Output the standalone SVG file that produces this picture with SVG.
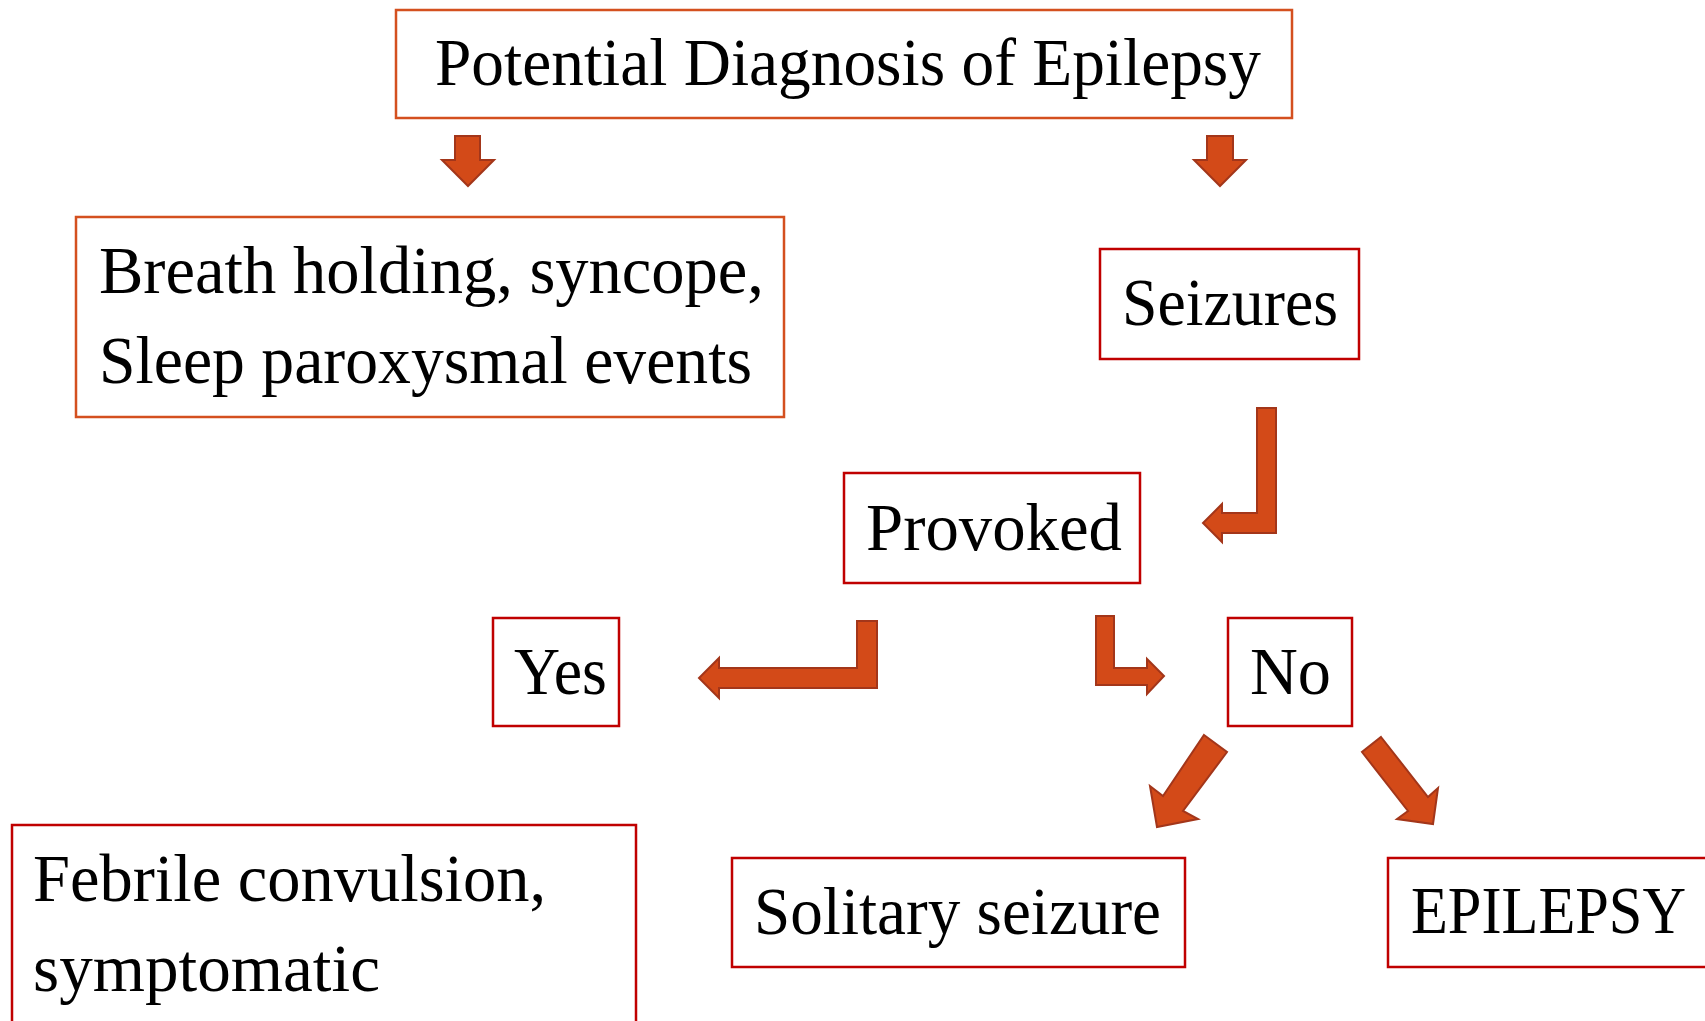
<svg xmlns="http://www.w3.org/2000/svg" width="1705" height="1021" viewBox="0 0 1705 1021">
<style>
.bo{fill:#fff;stroke:#D4501F;stroke-width:2.5}
.br{fill:#fff;stroke:#C00000;stroke-width:2.5}
.t{font-family:"Liberation Serif","Times New Roman",serif;font-size:68px;fill:#000}
.ar{fill:#D34A18;stroke:#A3361A;stroke-width:2;stroke-linejoin:miter}
</style>
<rect width="1705" height="1021" fill="#fff"/>
<g id="connectors">
<polygon class="ar" points="455,136 480,136 480,160 494,160 468,186 442,160 455,160"/>
<polygon class="ar" points="1207,136 1233,136 1233,160 1246,160 1220,186 1194,160 1207,160"/>
<polygon class="ar" points="1257,408 1276,408 1276,533 1222,533 1222,542 1203,523 1222,504 1222,513 1257,513"/>
<polygon class="ar" points="857,621 877,621 877,688 719,688 719,698 699,678 719,658 719,668 857,668"/>
<polygon class="ar" points="1096,616 1114,616 1114,668 1147,668 1147,659 1164,676 1147,694 1147,685 1096,685"/>
<polygon class="ar" points="1204,735 1227,752 1183,811 1198,819 1157,827 1150,786 1163,796"/>
<polygon class="ar" points="1381,737 1428,797 1438,788 1433,824 1397,819 1408,811 1362,752"/>
</g>
<g id="n-title">
<rect class="bo" x="396" y="10" width="896" height="108"/>
<text class="t" x="435" y="85" textLength="826" lengthAdjust="spacingAndGlyphs">Potential Diagnosis of Epilepsy</text>
</g>
<g id="n-breath">
<rect class="bo" x="76" y="217" width="708" height="200"/>
<text class="t" x="99" y="293" textLength="665" lengthAdjust="spacingAndGlyphs">Breath holding, syncope,</text>
<text class="t" x="99" y="383" textLength="653" lengthAdjust="spacingAndGlyphs">Sleep paroxysmal events</text>
</g>
<g id="n-seizures">
<rect class="br" x="1100" y="249" width="259" height="110"/>
<text class="t" x="1122" y="325" textLength="216" lengthAdjust="spacingAndGlyphs">Seizures</text>
</g>
<g id="n-provoked">
<rect class="br" x="844" y="473" width="296" height="110"/>
<text class="t" x="866" y="550" textLength="256" lengthAdjust="spacingAndGlyphs">Provoked</text>
</g>
<g id="n-yes">
<rect class="br" x="493" y="618" width="126" height="108"/>
<text class="t" x="514" y="694" textLength="93" lengthAdjust="spacingAndGlyphs">Yes</text>
</g>
<g id="n-no">
<rect class="br" x="1228" y="618" width="124" height="108"/>
<text class="t" x="1250" y="694" textLength="81" lengthAdjust="spacingAndGlyphs">No</text>
</g>
<g id="n-febrile">
<rect class="br" x="12" y="825" width="624" height="210"/>
<text class="t" x="33" y="901" textLength="513" lengthAdjust="spacingAndGlyphs">Febrile convulsion,</text>
<text class="t" x="33" y="991" textLength="347" lengthAdjust="spacingAndGlyphs">symptomatic</text>
</g>
<g id="n-solitary">
<rect class="br" x="732" y="858" width="453" height="109"/>
<text class="t" x="754" y="934" textLength="407" lengthAdjust="spacingAndGlyphs">Solitary seizure</text>
</g>
<g id="n-epilepsy">
<rect class="br" x="1388" y="858" width="340" height="109"/>
<text class="t" x="1411" y="933" textLength="275" lengthAdjust="spacingAndGlyphs">EPILEPSY</text>
</g>
</svg>
